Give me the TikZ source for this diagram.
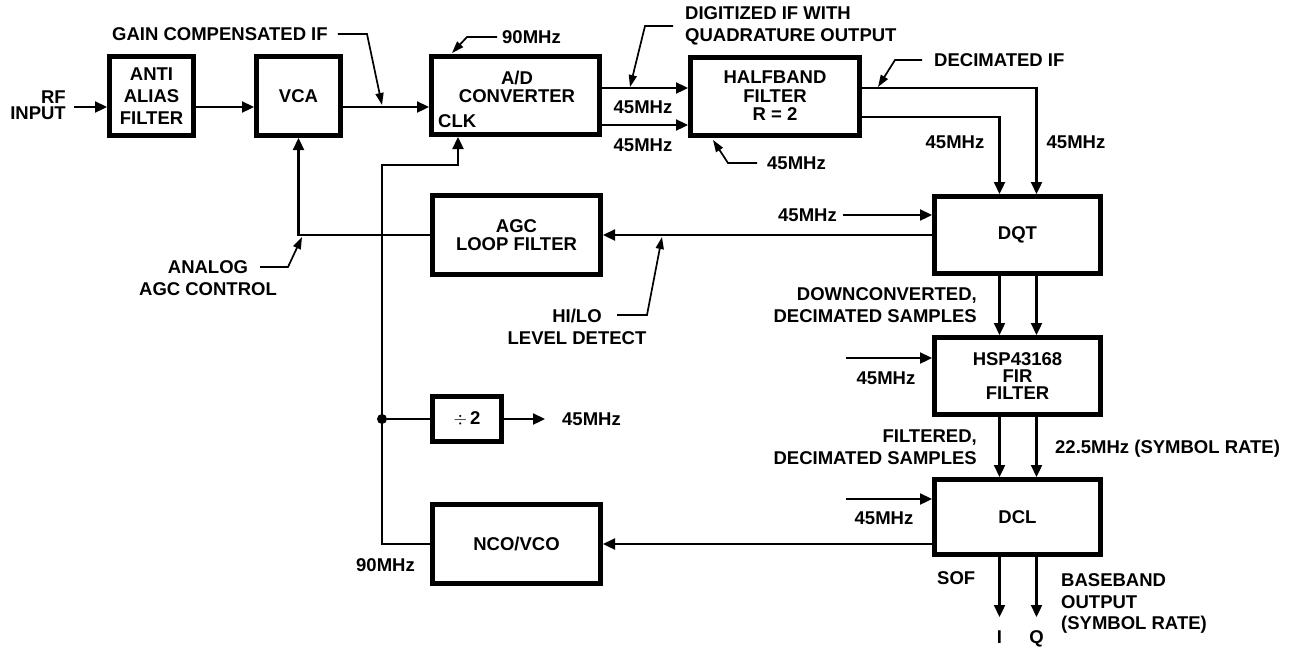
\documentclass[tikz,border=0pt]{standalone}
\usepackage{fontspec}
\setmainfont{Liberation Sans}
\usetikzlibrary{arrows.meta}
\tikzset{
  blk/.style={draw, line width=5pt, inner sep=0pt, align=center,
    font=\fontsize{18.5}{22}\selectfont\bfseries},
  lab/.style={inner sep=0pt, text height=13.3pt, text depth=0pt,
    font=\fontsize{18.5}{22}\selectfont\bfseries},
  ml/.style={inner sep=0pt, font=\fontsize{18.5}{#1}\selectfont\bfseries},
  ml/.default=22,
  conn/.style={line width=2.3pt, -{Triangle[length=12pt,width=11pt]}},
  wire/.style={line width=2.3pt},
  ldr/.style={line width=1.7pt, -{Triangle[length=12pt,width=8pt]}},
}
\begin{document}
\begin{tikzpicture}[x=1pt,y=-1pt]
\useasboundingbox[fill=white] (0,0) rectangle (1291,646);

% blocks
\node[blk, minimum width=84pt, minimum height=79pt] (aaf) at (151.5,96) {ANTI\\ALIAS\\FILTER};
\node[blk, minimum width=84pt, minimum height=79pt] (vca) at (298.5,96) {VCA};
\node[blk, minimum width=168pt, minimum height=78pt] (adc) at (515.5,95.5) {};
\node[ml=18, align=center] (adtxt) at (517,87) {A/D\\CONVERTER};
\node[lab, anchor=west] (clk) at (438,121) {CLK};
\node[blk, minimum width=169pt, minimum height=78pt, font=\fontsize{18.5}{18.5}\selectfont\bfseries] (hbf) at (775,96) {HALFBAND\\FILTER\\R = 2};
\node[blk, minimum width=168pt, minimum height=79pt, font=\fontsize{18.5}{18}\selectfont\bfseries] (agc) at (516.5,235) {AGC\\LOOP FILTER};
\node[blk, minimum width=69pt, minimum height=45pt] (div) at (467,419) {$\div$\,2};
\node[blk, minimum width=168pt, minimum height=79pt] (nco) at (516.5,544) {NCO/VCO};
\node[blk, minimum width=166pt, minimum height=77pt] (dqt) at (1017.5,235) {DQT};
\node[blk, minimum width=166pt, minimum height=77pt, font=\fontsize{18.5}{17}\selectfont\bfseries] (fir) at (1017.5,376) {HSP43168\\FIR\\FILTER};
\node[blk, minimum width=166pt, minimum height=75pt] (dcl) at (1017.5,517) {DCL};

% helper coordinates
\coordinate (sig) at (0,107);
\coordinate (q1) at (0,88);
\coordinate (q2) at (0,125);
\coordinate (h1) at (0,88);
\coordinate (h2) at (0,117);
\coordinate (dx1) at (1036.5,0);
\coordinate (dx2) at (999.5,0);
\coordinate (vx) at (382,0);
\coordinate (clkc) at (458,165);
\coordinate (rfin) at (74,107);
\coordinate (firin) at (846,358);
\coordinate (dclin) at (846,499);
\coordinate (outI) at (999.5,617);
\coordinate (outQ) at (1036.5,617);
\coordinate (divout) at (545,419);

% labels
\node[ml=16, align=right, anchor=east] (rf) at (66,105) {RF\\INPUT};
\node[lab, anchor=west] (gain) at (112,34) {GAIN COMPENSATED IF};
\node[lab, anchor=west] (ck90) at (502,37) {90MHz};
\node[ml, align=left, anchor=west] (digi) at (685,26) {DIGITIZED IF WITH\\QUADRATURE OUTPUT};
\node[lab] (m45a) at (643,107) {45MHz};
\node[lab] (m45b) at (643,145) {45MHz};
\node[lab, anchor=west] (hbfclk) at (767,163) {45MHz};
\node[lab, anchor=west] (decif) at (934,60) {DECIMATED IF};
\node[lab] (m45c) at (955,142) {45MHz};
\node[lab] (m45d) at (1076,142) {45MHz};
\node[lab, anchor=east] (dqtclk) at (837,215) {45MHz};
\node[ml, align=center] (anlg) at (208,278) {ANALOG\\AGC CONTROL};
\node[ml, align=center] (hilo) at (577,326.5) {HI/LO\\LEVEL DETECT};
\node[ml, align=right, anchor=east] (dwn) at (977,305.5) {DOWNCONVERTED,\\DECIMATED SAMPLES};
\node[lab] (firclk) at (886,378) {45MHz};
\node[ml, align=right, anchor=east] (filt) at (977,447.5) {FILTERED,\\DECIMATED SAMPLES};
\node[lab, anchor=west] (sym) at (1055,447) {22.5MHz (SYMBOL RATE)};
\node[lab] (dclclk) at (884,518) {45MHz};
\node[lab, anchor=west] (d45) at (562,419) {45MHz};
\node[lab] (n90) at (385.5,565) {90MHz};
\node[lab, anchor=west] (sof) at (937,578) {SOF};
\node[ml=21.5, align=left, anchor=west] (bb) at (1061,603.5) {BASEBAND\\OUTPUT\\(SYMBOL RATE)};
\node[lab] (iout) at (999.5,637) {I};
\node[lab] (qout) at (1036.5,637) {Q};

% signal path
\draw[conn] (rfin) -- (rfin -| aaf.west);
\draw[conn] (aaf.east |- sig) -- (vca.west |- sig);
\draw[conn] (vca.east |- sig) -- (adc.west |- sig);
\draw[conn] (adc.east |- q1) -- (hbf.west |- q1);
\draw[conn] (adc.east |- q2) -- (hbf.west |- q2);
\draw[conn] (hbf.east |- h1) -| (dx1 |- dqt.north);
\draw[conn] (hbf.east |- h2) -| (dx2 |- dqt.north);
\draw[conn] ([xshift=6pt]dqtclk.east) -- (dqtclk.east -| dqt.west);
\draw[conn] (dqt.west) -- (agc.east);
\draw[conn] (agc.west) -| (vca.south);
\draw[conn] (dx2 |- dqt.south) -- (dx2 |- fir.north);
\draw[conn] (dx1 |- dqt.south) -- (dx1 |- fir.north);
\draw[conn] (firin) -- (firin -| fir.west);
\draw[conn] (dx2 |- fir.south) -- (dx2 |- dcl.north);
\draw[conn] (dx1 |- fir.south) -- (dx1 |- dcl.north);
\draw[conn] (dclin) -- (dclin -| dcl.west);
\draw[conn] (dcl.west |- nco.east) -- (nco.east);
\draw[conn] (dx2 |- dcl.south) -- (outI);
\draw[conn] (dx1 |- dcl.south) -- (outQ);
\draw[conn] (nco.west) -- (vx |- nco.west) -- (vx |- clkc) -- (clkc) -- (clkc |- adc.south);
\node[circle, fill, inner sep=0pt, minimum size=10pt] (jn) at (vx |- div.west) {};
\draw[wire] (jn) -- (div.west);
\draw[conn] (div.east) -- (divout);

% leaders
\coordinate (g1) at (367,34);
\coordinate (g2) at (382,105);
\draw[ldr] ([xshift=10pt]gain.east) -- (g1) -- (g2);
\coordinate (c1) at (467,37);
\coordinate (c2) at (452,53);
\draw[ldr] ([xshift=-5pt]ck90.west) -- (c1) -- (c2);
\coordinate (dg1) at (645,26);
\coordinate (dg2) at (630,87);
\draw[ldr] ([xshift=-12pt]digi.west) -- (dg1) -- (dg2);
\coordinate (hc1) at (728,163);
\coordinate (hc2) at (713,140);
\draw[ldr] ([xshift=-10pt]hbfclk.west) -- (hc1) -- (hc2);
\coordinate (di1) at (895,60);
\coordinate (di2) at (878,87);
\draw[ldr] ([xshift=-12pt]decif.west) -- (di1) -- (di2);
\coordinate (a0) at (260,267);
\coordinate (a1) at (288,267);
\coordinate (a2) at (302,237);
\draw[ldr] (a0) -- (a1) -- (a2);
\coordinate (l0) at (617,315);
\coordinate (l1) at (647,315);
\coordinate (l2) at (662,237);
\draw[ldr] (l0) -- (l1) -- (l2);
\end{tikzpicture}
\end{document}
